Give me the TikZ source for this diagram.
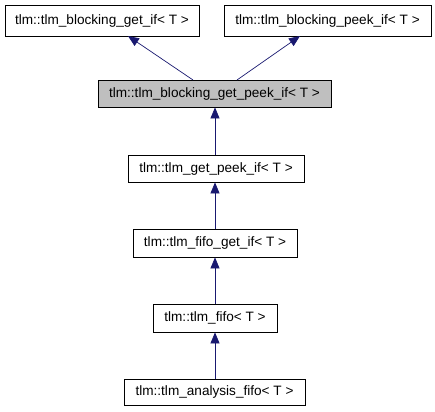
\documentclass[tikz,border=0pt]{standalone}
\usepackage{fontspec}
\setmainfont{Liberation Sans}
\usetikzlibrary{arrows.meta}
\definecolor{edgeblue}{HTML}{191970}
\definecolor{hlgray}{HTML}{BFBFBF}
\begin{document}
\begin{tikzpicture}[x=1pt,y=-1pt,
  cls/.style={draw=black,line width=0.8pt,fill=white,inner sep=0pt,font=\fontsize{13.6}{15}\selectfont},
  inh/.style={draw=edgeblue,line width=0.7pt,-{Triangle[length=11pt,width=9pt]}}]
\useasboundingbox (0,0) rectangle (435,411);
\node[cls,minimum width=194pt,minimum height=31pt] (n1) at (102,20.5) {tlm::tlm\_blocking\_get\_if< T >};
\node[cls,minimum width=207pt,minimum height=31pt] (n2) at (327.5,20.5) {tlm::tlm\_blocking\_peek\_if< T >};
\node[cls,fill=hlgray,minimum width=233pt,minimum height=27pt] (n3) at (214.5,93.5) {tlm::tlm\_blocking\_get\_peek\_if< T >};
\node[cls,minimum width=176pt,minimum height=27pt] (n4) at (216,168.5) {tlm::tlm\_get\_peek\_if< T >};
\node[cls,minimum width=164pt,minimum height=28pt] (n5) at (215,243) {tlm::tlm\_fifo\_get\_if< T >};
\node[cls,minimum width=124pt,minimum height=28pt] (n6) at (215,318) {tlm::tlm\_fifo< T >};
\node[cls,minimum width=181pt,minimum height=26pt] (n7) at (214.5,392) {tlm::tlm\_analysis\_fifo< T >};
\coordinate (s1) at (193,80);
\coordinate (t1) at (128,36);
\coordinate (s2) at (237,80);
\coordinate (t2) at (300,36);
\draw[inh] (s1) -- (t1);
\draw[inh] (s2) -- (t2);
\draw[inh] (n4.north -| 215,0) -- (n3.south -| 215,0);
\draw[inh] (n5.north -| 215,0) -- (n4.south -| 215,0);
\draw[inh] (n6.north -| 215,0) -- (n5.south -| 215,0);
\draw[inh] (n7.north -| 215,0) -- (n6.south -| 215,0);
\end{tikzpicture}
\end{document}
